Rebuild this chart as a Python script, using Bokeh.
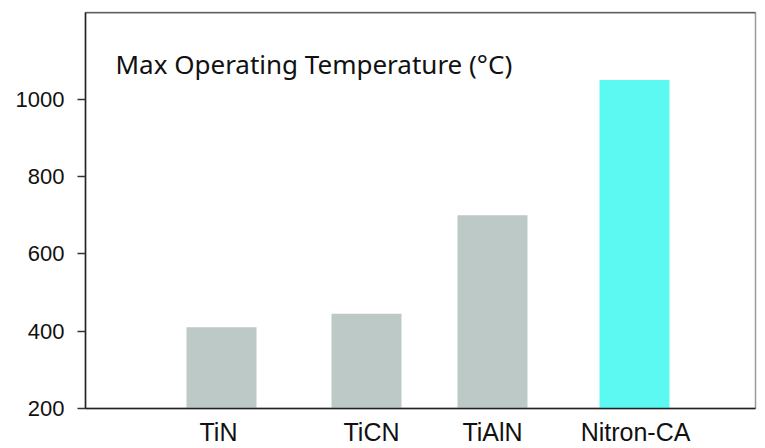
from bokeh.plotting import figure
from bokeh.models import Range1d, FixedTicker, Label, Span
from bokeh.embed import file_html
from bokeh.resources import INLINE

categories = ["TiN", "TiCN", "TiAlN", "Nitron-CA"]
max_temp = [410, 445, 700, 1050]
bar_colors = ["#BDC9C7", "#BDC9C7", "#BDC9C7", "#5BF9F1"]
y_ticks = [200, 400, 600, 800, 1000]
title_text = "Max Operating Temperature (\u00b0C)"

# layout (horizontal pixel positions within frame)
bar_pos = [136, 281, 407, 549]
label_pos = [133, 286, 407, 550]

p = figure(width=757, height=448, output_backend="svg", toolbar_location=None,
           x_range=Range1d(0, 670), y_range=Range1d(200, 1225),
           min_border_left=85, min_border_right=2, min_border_top=12, min_border_bottom=39)

p.vbar(x=bar_pos, top=max_temp, bottom=200, width=70, fill_color=bar_colors, line_color=None)

p.xgrid.visible = False
p.ygrid.visible = False
p.background_fill_color = "white"
p.outline_line_color = "#9a9a9a"
p.outline_line_width = 1.5

# y axis
p.yaxis.ticker = FixedTicker(ticks=y_ticks)
p.yaxis.minor_tick_line_color = None
p.yaxis.major_tick_out = 8
p.yaxis.major_tick_in = 0
p.yaxis.major_tick_line_color = "#333333"
p.yaxis.major_tick_line_width = 1.5
p.yaxis.axis_line_color = "#222222"
p.yaxis.axis_line_width = 1.5
p.yaxis.major_label_text_font = "Liberation Sans"
p.yaxis.major_label_text_font_size = "22px"
p.yaxis.major_label_text_color = "#111111"
p.yaxis.major_label_standoff = 13

# x axis
p.xaxis.ticker = FixedTicker(ticks=label_pos)
p.xaxis.major_label_overrides = {pos: c for pos, c in zip(label_pos, categories)}
p.xaxis.major_tick_out = 0
p.xaxis.major_tick_in = 0
p.xaxis.major_tick_line_color = None
p.xaxis.minor_tick_line_color = None
p.xaxis.axis_line_color = "#222222"
p.xaxis.axis_line_width = 1.5
p.xaxis.major_label_text_font = "Liberation Sans"
p.xaxis.major_label_text_font_size = "25px"
p.xaxis.major_label_text_color = "#111111"
p.xaxis.major_label_standoff = 9

# top border dark
p.add_layout(Span(location=1225, dimension="width", line_color="#222222", line_width=1.5))

p.add_layout(Label(x=30, y=1091, text=title_text, text_font="Noto Sans",
                   text_font_size="26px", text_color="#111111", text_baseline="alphabetic"))

open("out.html", "w").write(file_html(p, INLINE))
